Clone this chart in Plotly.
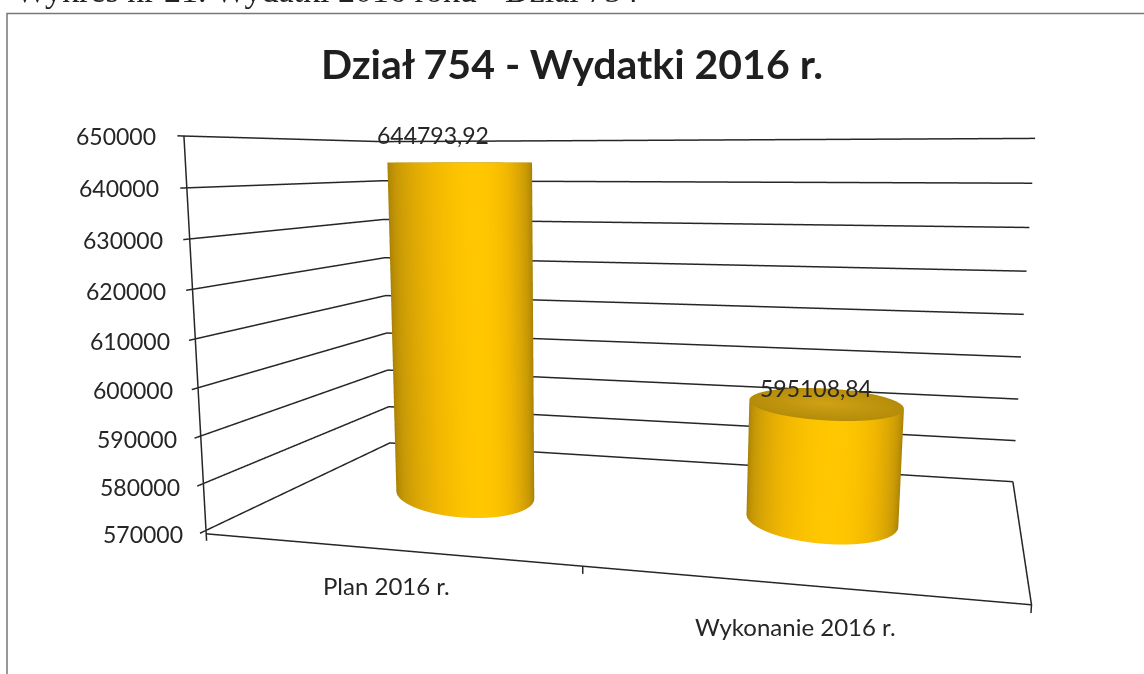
import numpy as np
import plotly.graph_objects as go

caption = "Wykres nr 21. Wydatki 2016 roku - Dział 754"
title = "Dział 754 - Wydatki 2016 r."
categories = ["Plan 2016 r.", "Wykonanie 2016 r."]
values = [644793.92, 595108.84]
value_labels = ["644793,92", "595108,84"]
tick_values = [570000, 580000, 590000, 600000, 610000, 620000, 630000, 640000, 650000]
tick_labels = ["570000", "580000", "590000", "600000", "610000", "620000", "630000", "640000", "650000"]

bar_x = [0.243, 0.748]
bar_rx = [0.113, 0.1005]
bar_ry = [0.2, 0.2]
bar_skew = [-0.08, -0.03]
label_shift = [(-26, 27), (-9, 15)]
cat_shift = [(5, -37), (0, -42)]

XR = [-0.015, 1.01]
YR = [-0.02, 1.01]
ZR = [568000, 651000]
Z0 = tick_values[0]
ZB = 568500
ASPECT = np.array([1.00985, 0.58468, 0.50863])
EYE = np.array([0.40177, -1.70234, 0.22044])
CENTER = np.array([0.38107, -1.63094, 0.20584])
UP = np.array([0.0720, -0.2451, 1.0])
W, H, DY = 1144, 1100, 130

INK = "#262626"
FONT = "Lato, 'Open Sans', sans-serif"


def yp(y):
    return 1 - (y + DY) / H


def world(x, y):
    return (np.asarray(x) - XR[0]) / (XR[1] - XR[0]) - .5, (np.asarray(y) - YR[0]) / (YR[1] - YR[0]) - .5


fig = go.Figure()

# wall gridlines and ticks
gx, gy, gz = [], [], []
for t in tick_values:
    gx += [-0.009, 0, 1, None]
    gy += [0, 1, 1, None]
    gz += [t, t, t, None]
fig.add_trace(go.Scatter3d(x=gx, y=gy, z=gz, mode="lines", line=dict(color=INK, width=3),
                           hoverinfo="skip", showlegend=False))
# value axis, floor outline, category ticks
ax = [0, 0, None, 0, 1, 1, None, 1, 1, None, 0.5, 0.5]
ay = [0, 0, None, 0, 0, 1, None, 0, 0, None, 0, 0]
az = [ZB, tick_values[-1], None, Z0, Z0, Z0, None, Z0, ZB, None, Z0, ZB]
fig.add_trace(go.Scatter3d(x=ax, y=ay, z=az, mode="lines", line=dict(color=INK, width=3),
                           hoverinfo="skip", showlegend=False))

th = np.linspace(0, 2 * np.pi, 181)
side_scale = [[0, "#a07a04"], [0.35, "#c99a06"], [0.75, "#efb502"], [1, "#ffc700"]]
cap_scale = [[0, "#d0a214"], [1, "#b58c0a"]]
flat = dict(ambient=1, diffuse=0, specular=0, fresnel=0, roughness=1)
for cx, v, rx, ry, k in zip(bar_x, values, bar_rx, bar_ry, bar_skew):
    x = cx + rx * np.cos(th)
    y = 0.5 + ry * np.sin(th) + k * np.cos(th)
    # shade from the angle between the outward normal and the direction to the eye
    wx, wy = world(x, y)
    px, py = wx * ASPECT[0], wy * ASPECT[1]
    tx, ty = np.gradient(px), np.gradient(py)
    nx, ny = ty, -tx
    vx, vy = EYE[0] - px, EYE[1] - py
    shade = (nx * vx + ny * vy) / (np.hypot(nx, ny) * np.hypot(vx, vy))
    fig.add_trace(go.Surface(x=np.array([x, x]), y=np.array([y, y]),
                             z=np.array([[Z0] * th.size, [v] * th.size]),
                             surfacecolor=np.array([shade, shade]), cmin=0, cmax=1,
                             colorscale=side_scale, showscale=False, lighting=flat, hoverinfo="skip"))
    r = np.array([0.0, 0.5, 1.0])[:, None]
    capx = cx + r * rx * np.cos(th)
    capy = 0.5 + r * (ry * np.sin(th) + k * np.cos(th))
    fig.add_trace(go.Surface(x=capx, y=capy, z=np.full(capx.shape, v),
                             surfacecolor=np.repeat(r, th.size, axis=1), cmin=0, cmax=1,
                             colorscale=cap_scale, showscale=False, lighting=flat, hoverinfo="skip"))

scene_ann = []
for t, lab in zip(tick_values, tick_labels):
    scene_ann.append(dict(x=0, y=0, z=t, text=lab, showarrow=False, xanchor="right", yanchor="middle",
                          xshift=-21 - 5 * (t - Z0) / 80000, font=dict(family=FONT, size=23, color=INK)))
for cx, v, lab, (sx, sy) in zip(bar_x, values, value_labels, label_shift):
    scene_ann.append(dict(x=cx, y=0.5, z=v, text=lab, showarrow=False, xanchor="center", yanchor="middle",
                          xshift=sx, yshift=sy, font=dict(family=FONT, size=23, color=INK)))
for cx, lab, (sx, sy) in zip(bar_x, categories, cat_shift):
    scene_ann.append(dict(x=cx, y=0, z=Z0, text=lab, showarrow=False, xanchor="center", yanchor="middle",
                          xshift=sx, yshift=sy, font=dict(family=FONT, size=24, color=INK)))

frame = f"M {7/W} {yp(690)} L {7/W} {yp(13.5)} L 1 {yp(13.5)}"
fig.update_layout(
    width=W, height=H, margin=dict(l=0, r=0, t=0, b=0), paper_bgcolor="white", showlegend=False,
    title=dict(text=f"<b>{title}</b>", x=0.5, y=yp(65), xanchor="center", yanchor="middle", xref="paper",
               yref="container", font=dict(family=FONT, size=41, color="#1f1f1f")),
    shapes=[dict(type="path", xref="paper", yref="paper", path=frame, line=dict(color="#777777", width=1.5))],
    annotations=[dict(text=caption, xref="paper", yref="paper", x=13 / W, y=yp(-10), xanchor="left",
                      yanchor="middle", showarrow=False,
                      font=dict(family="Liberation Serif", size=34, color="#222"))],
    scene=dict(domain=dict(x=[0, 1], y=[0, 1]), aspectmode="manual",
               aspectratio=dict(x=ASPECT[0], y=ASPECT[1], z=ASPECT[2]),
               camera=dict(eye=dict(x=EYE[0], y=EYE[1], z=EYE[2]),
                           center=dict(x=CENTER[0], y=CENTER[1], z=CENTER[2]),
                           up=dict(x=UP[0], y=UP[1], z=UP[2])),
               xaxis=dict(visible=False, range=XR), yaxis=dict(visible=False, range=YR),
               zaxis=dict(visible=False, range=ZR), annotations=scene_ann))
fig.write_html("out.html", config=dict(displayModeBar=False), post_script=(
    "document.body.style.margin='0';document.documentElement.style.overflow='hidden';"
    "document.body.style.overflow='hidden';"
    f"document.querySelector('.plotly-graph-div').style.marginTop='{-DY}px';"))
